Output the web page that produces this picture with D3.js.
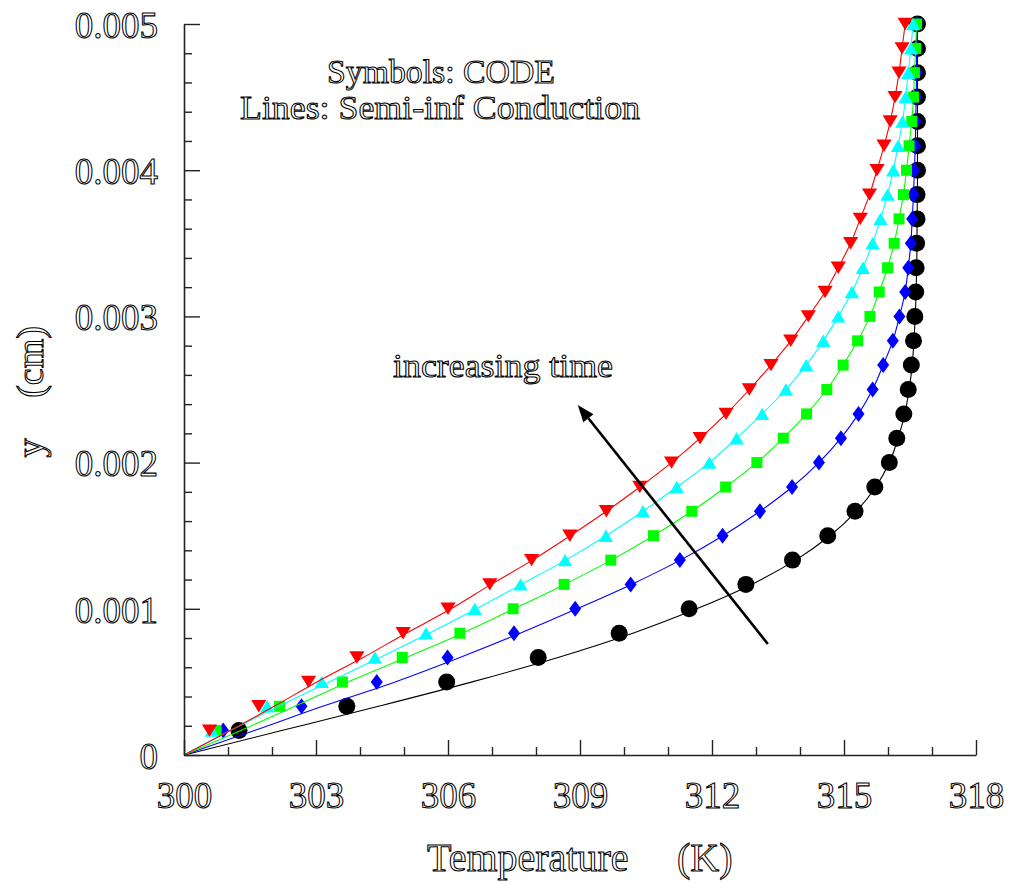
<!DOCTYPE html>
<html>
<head>
<meta charset="utf-8">
<script src="https://cdn.jsdelivr.net/npm/d3@7"></script>
<style>
  html, body { margin: 0; padding: 0; background: #fff; }
  svg { display: block; }
  .outline {
    font-family: "Liberation Serif", "Times New Roman", serif;
    fill: #fff;
    stroke: #000;
    stroke-width: 1.05px;
  }
</style>
</head>
<body>
<svg id="chart" width="1010" height="884"></svg>
<script>
// Depth levels (cm) at which the CODE results are sampled
const yLevels = [0.000167, 0.000333, 0.0005, 0.000667, 0.000833, 0.001,
                 0.001167, 0.001333, 0.0015, 0.001667, 0.001833, 0.002,
                 0.002167, 0.002333, 0.0025, 0.002667, 0.002833, 0.003,
                 0.003167, 0.003333, 0.0035, 0.003667, 0.003833, 0.004,
                 0.004167, 0.004333, 0.0045, 0.004667, 0.004833, 0.005];

// Depth levels for the analytic (semi-infinite conduction) curves
const lineLevels = [0, 0.000167, 0.000333, 0.0005, 0.000667, 0.000833, 0.001,
                    0.001167, 0.001333, 0.0015, 0.001667, 0.001833, 0.002,
                    0.002167, 0.002333, 0.0025, 0.002667, 0.002833, 0.003,
                    0.003167, 0.003333, 0.0035, 0.003667, 0.003833, 0.004,
                    0.004167, 0.004333, 0.0045, 0.004667, 0.004833, 0.005];

// CODE temperatures (K), one array per time
const codeT1 = [301.25, 303.70, 305.97, 308.05, 309.89, 311.48, 312.77, 313.83,
                314.63, 315.25, 315.70, 316.03, 316.20, 316.36, 316.46, 316.53,
                316.58, 316.61, 316.63, 316.64, 316.65, 316.66, 316.66, 316.67,
                316.67, 316.67, 316.67, 316.67, 316.67, 316.67];
const codeT2 = [300.89, 302.67, 304.38, 305.99, 307.50, 308.89, 310.15, 311.27,
                312.24, 313.09, 313.82, 314.43, 314.93, 315.33, 315.65, 315.89,
                316.11, 316.26, 316.39, 316.46, 316.52, 316.55, 316.58, 316.60,
                316.62, 316.63, 316.64, 316.65, 316.65, 316.66];
const codeT3 = [300.73, 302.17, 303.60, 304.96, 306.27, 307.48, 308.64, 309.70,
                310.67, 311.54, 312.31, 313.02, 313.62, 314.15, 314.61, 314.98,
                315.31, 315.59, 315.80, 315.99, 316.14, 316.25, 316.35, 316.42,
                316.48, 316.54, 316.58, 316.60, 316.63, 316.65];
const codeT4 = [300.63, 301.89, 303.13, 304.34, 305.50, 306.61, 307.65, 308.66,
                309.59, 310.43, 311.20, 311.94, 312.56, 313.14, 313.68, 314.14,
                314.53, 314.87, 315.18, 315.43, 315.65, 315.83, 315.99, 316.12,
                316.23, 316.33, 316.40, 316.46, 316.52, 316.57];
const codeT5 = [300.58, 301.70, 302.83, 303.93, 304.98, 306.00, 306.95, 307.90,
                308.77, 309.60, 310.36, 311.08, 311.73, 312.32, 312.85, 313.34,
                313.79, 314.19, 314.57, 314.87, 315.15, 315.37, 315.58, 315.75,
                315.91, 316.05, 316.16, 316.25, 316.32, 316.39];

// Semi-infinite conduction temperatures (K) at lineLevels
const semiT1 = [300, 302.22, 304.42, 306.55, 308.50, 310.20, 311.65, 312.90, 313.90,
                314.68, 315.28, 315.72, 316.03, 316.23, 316.38, 316.48, 316.55,
                316.59, 316.62, 316.64, 316.65, 316.66, 316.66, 316.67, 316.67,
                316.67, 316.67, 316.67, 316.67, 316.67, 316.67];
const semiT2 = [300, 301.60, 303.15, 304.80, 306.27, 307.64, 308.93, 310.17, 311.28,
                312.25, 313.09, 313.82, 314.43, 314.93, 315.33, 315.65, 315.89,
                316.11, 316.26, 316.39, 316.46, 316.52, 316.55, 316.58, 316.60,
                316.62, 316.63, 316.64, 316.65, 316.65, 316.66];
const semiT3 = [300, 301.29, 302.52, 303.73, 305.05, 306.33, 307.50, 308.65, 309.71,
                310.67, 311.54, 312.31, 313.02, 313.62, 314.15, 314.61, 314.98,
                315.31, 315.59, 315.80, 315.99, 316.14, 316.25, 316.35, 316.42,
                316.48, 316.54, 316.58, 316.60, 316.63, 316.65];
const semiT4 = [300, 301.05, 302.15, 303.30, 304.45, 305.57, 306.65, 307.67, 308.67,
                309.59, 310.43, 311.20, 311.94, 312.56, 313.14, 313.68, 314.14,
                314.53, 314.87, 315.18, 315.43, 315.65, 315.83, 315.99, 316.12,
                316.23, 316.33, 316.40, 316.46, 316.52, 316.57];
const semiT5 = [300, 301.05, 302.05, 303.02, 304.07, 305.05, 306.07, 306.98, 307.92,
                308.78, 309.60, 310.36, 311.08, 311.73, 312.32, 312.85, 313.34,
                313.79, 314.19, 314.57, 314.87, 315.15, 315.37, 315.58, 315.75,
                315.91, 316.05, 316.16, 316.25, 316.32, 316.39];

// Axis ticks and labels
const tempTicks = [300, 303, 306, 309, 312, 315, 318];
const tempTickLabels = ["300", "303", "306", "309", "312", "315", "318"];
const tempMinorTicks = [301, 302, 304, 305, 307, 308, 310, 311, 313, 314, 316, 317];
const depthTicks = [0, 0.001, 0.002, 0.003, 0.004, 0.005];
const depthTickLabels = ["0", "0.001", "0.002", "0.003", "0.004", "0.005"];
const depthMinorTicks = [0.0002, 0.0004, 0.0006, 0.0008, 0.0012, 0.0014, 0.0016, 0.0018,
                         0.0022, 0.0024, 0.0026, 0.0028, 0.0032, 0.0034, 0.0036, 0.0038,
                         0.0042, 0.0044, 0.0046, 0.0048];

// Arrow marking the direction of increasing time, in data units [T, y]
const arrowFrom = [313.27, 0.000759];
const arrowTo = [308.95, 0.002394];

const series = [
  { color: "#000000", shape: "circle",   code: codeT1, semi: semiT1 },
  { color: "#0000ff", shape: "diamond",  code: codeT2, semi: semiT2 },
  { color: "#00ff00", shape: "square",   code: codeT3, semi: semiT3 },
  { color: "#00ffff", shape: "triUp",    code: codeT4, semi: semiT4 },
  { color: "#ff0000", shape: "triDown",  code: codeT5, semi: semiT5 }
];

const svg = d3.select("#chart");

const x = d3.scaleLinear().domain([300, 318]).range([184, 976]);
const y = d3.scaleLinear().domain([0, 0.005]).range([755, 24]);

// marker outlines centred on (0,0)
const shapePath = {
  circle:  "M8.5,0A8.5,8.5 0 1,1 -8.5,0A8.5,8.5 0 1,1 8.5,0Z",
  diamond: "M0,-8L6,0L0,8L-6,0Z",
  square:  "M-5.5,-5.5H5.5V5.5H-5.5Z",
  triUp:   "M0,-6.2L7.2,6.2L-7.2,6.2Z",
  triDown: "M-7.6,-6.2L7.6,-6.2L0,6.2Z"
};

const line = d3.line()
  .x(d => x(d[0]))
  .y(d => y(d[1]))
  .curve(d3.curveMonotoneY);

const plot = svg.append("g");
series.forEach(s => {
  const g = plot.append("g");
  g.selectAll("path.mark")
    .data(s.code.map((t, i) => [t, yLevels[i]]))
    .join("path")
    .attr("class", "mark")
    .attr("d", shapePath[s.shape])
    .attr("transform", d => `translate(${x(d[0])},${y(d[1])})`)
    .attr("fill", s.color);
  g.append("path")
    .datum(s.semi.map((t, i) => [t, lineLevels[i]]))
    .attr("d", line)
    .attr("fill", "none")
    .attr("stroke", s.color)
    .attr("stroke-width", 1.1);
});

// axes
const axisColor = "#222";
function styleAxis(g) {
  g.select(".domain").attr("stroke", axisColor).attr("stroke-width", 1.6);
  g.selectAll(".tick line").attr("stroke", axisColor).attr("stroke-width", 1.4);
}

const xMajor = svg.append("g")
  .attr("transform", "translate(0,755)")
  .call(d3.axisBottom(x).tickValues(tempTicks)
    .tickFormat((d, i) => tempTickLabels[i])
    .tickSize(-15).tickSizeOuter(0).tickPadding(0));
styleAxis(xMajor);
xMajor.attr("font-size", null).attr("font-family", null);
xMajor.selectAll(".tick text")
  .attr("class", "outline")
  .attr("y", 53).attr("dy", null)
  .style("font-size", "37px");

const xMinor = svg.append("g")
  .attr("transform", "translate(0,755)")
  .call(d3.axisBottom(x).tickValues(tempMinorTicks).tickFormat("")
    .tickSize(-8).tickSizeOuter(0));
xMinor.select(".domain").remove();
styleAxis(xMinor);

const yMajor = svg.append("g")
  .attr("transform", "translate(184,0)")
  .call(d3.axisLeft(y).tickValues(depthTicks)
    .tickFormat((d, i) => depthTickLabels[i])
    .tickSize(-16).tickSizeOuter(0).tickPadding(26));
styleAxis(yMajor);
yMajor.attr("font-size", null).attr("font-family", null);
yMajor.selectAll(".tick text")
  .attr("class", "outline")
  .attr("dy", "0.36em")
  .style("font-size", "37px");

const yMinor = svg.append("g")
  .attr("transform", "translate(184,0)")
  .call(d3.axisLeft(y).tickValues(depthMinorTicks).tickFormat("")
    .tickSize(-8).tickSizeOuter(0));
yMinor.select(".domain").remove();
styleAxis(yMinor);

// axis titles
svg.append("text").attr("class", "outline")
  .attr("x", 427).attr("y", 871)
  .style("font-size", "40px")
  .text("Temperature");
svg.append("text").attr("class", "outline")
  .attr("x", 677).attr("y", 871)
  .style("font-size", "40px")
  .text("(K)");

svg.append("text").attr("class", "outline")
  .attr("transform", "translate(43,448) rotate(-90)")
  .attr("text-anchor", "middle")
  .style("font-size", "38px")
  .text("y");
svg.append("text").attr("class", "outline")
  .attr("transform", "translate(43,362) rotate(-90)")
  .attr("text-anchor", "middle")
  .style("font-size", "38px")
  .text("(cm)");

// annotations
svg.append("text").attr("class", "outline")
  .attr("x", 441).attr("y", 83)
  .attr("text-anchor", "middle")
  .attr("textLength", 228).attr("lengthAdjust", "spacingAndGlyphs")
  .style("font-size", "34px")
  .text("Symbols: CODE");
svg.append("text").attr("class", "outline")
  .attr("x", 440).attr("y", 119)
  .attr("text-anchor", "middle")
  .attr("textLength", 400).attr("lengthAdjust", "spacingAndGlyphs")
  .style("font-size", "34px")
  .text("Lines: Semi-inf Conduction");
svg.append("text").attr("class", "outline")
  .attr("x", 393).attr("y", 377)
  .attr("textLength", 220).attr("lengthAdjust", "spacingAndGlyphs")
  .style("font-size", "34px")
  .text("increasing time");

// arrow
const ax0 = x(arrowFrom[0]), ay0 = y(arrowFrom[1]);
const ax1 = x(arrowTo[0]), ay1 = y(arrowTo[1]);
const ang = Math.atan2(ay1 - ay0, ax1 - ax0);
const headLen = 17, headHalf = 6.5;
const bx = ax1 - headLen * Math.cos(ang), by = ay1 - headLen * Math.sin(ang);
svg.append("line")
  .attr("x1", ax0).attr("y1", ay0).attr("x2", bx).attr("y2", by)
  .attr("stroke", "#000").attr("stroke-width", 2.6);
svg.append("path")
  .attr("d", `M${ax1},${ay1}L${bx + headHalf * Math.sin(ang)},${by - headHalf * Math.cos(ang)}L${bx - headHalf * Math.sin(ang)},${by + headHalf * Math.cos(ang)}Z`)
  .attr("fill", "#000");
</script>
</body>
</html>
